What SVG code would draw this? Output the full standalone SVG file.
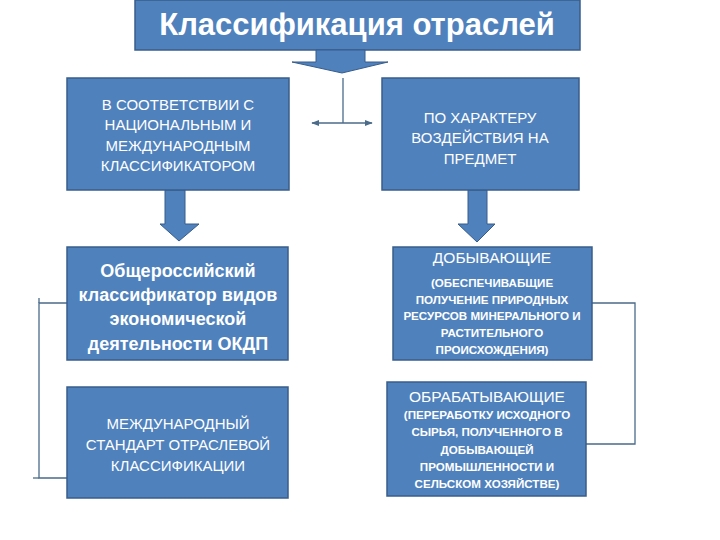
<svg xmlns="http://www.w3.org/2000/svg" width="720" height="540" viewBox="0 0 720 540">
<defs>
<style>
.box{fill:#4F81BD;stroke:#385D8A;stroke-width:1.5}
.arr{fill:#4F81BD;stroke:#385D8A;stroke-width:1}
.t{font-family:"Liberation Sans","DejaVu Sans",sans-serif;fill:#fff;text-anchor:middle}
.m{font-size:15px}
.h{font-size:15.5px}
.s{font-size:11.6px;font-weight:bold}
.ln{fill:none;stroke:#4A6B8A;stroke-width:1.3}
</style>
<marker id="ah" viewBox="0 0 10 10" refX="9" refY="5" markerWidth="6" markerHeight="6" orient="auto-start-reverse">
<path d="M0,1 L10,5 L0,9 z" fill="#4A6B8A"/>
</marker>
</defs>
<rect width="720" height="540" fill="#fff"/>
<g id="title">
<rect class="box" x="135" y="0" width="445" height="50"/>
<text class="t" x="357" y="35" font-size="31" font-weight="bold">Классификация отраслей</text>
</g>
<g id="arrows">
<path class="arr" d="M316,50 H365 V62 H388 L342,73 L292,62 H316 Z"/>
<path class="arr" d="M165,190 H185 V224 H199 L179,241 L160,224 H165 Z"/>
<path class="arr" d="M468,190 H487 V224 H495 L477,242 L458,224 H468 Z"/>
</g>
<g id="connectors">
<line class="ln" x1="343" y1="78" x2="343" y2="123"/>
<line class="ln" x1="312" y1="123" x2="372" y2="123" marker-start="url(#ah)" marker-end="url(#ah)"/>
<polyline class="ln" points="67,303 39,303 39,478 67,478"/>
<line class="ln" x1="39" y1="298" x2="39" y2="303"/>
<line class="ln" x1="33" y1="478" x2="39" y2="478"/>
<polyline class="ln" points="592,303 635,303 635,444 586,444"/>
</g>
<g id="n1">
<rect class="box" x="67" y="78" width="222" height="112"/>
<text class="t m" x="178" y="110">В СООТВЕТСТВИИ С</text>
<text class="t m" x="178" y="130">НАЦИОНАЛЬНЫМ И</text>
<text class="t m" x="178" y="151">МЕЖДУНАРОДНЫМ</text>
<text class="t m" x="178" y="171">КЛАССИФИКАТОРОМ</text>
</g>
<g id="n2">
<rect class="box" x="382" y="78" width="197" height="112"/>
<text class="t m" x="480" y="123">ПО ХАРАКТЕРУ</text>
<text class="t m" x="480" y="143">ВОЗДЕЙСТВИЯ НА</text>
<text class="t m" x="480" y="164">ПРЕДМЕТ</text>
</g>
<g id="n3">
<rect class="box" x="67" y="247" width="221" height="113"/>
<text class="t" x="178" y="277" font-size="18" font-weight="bold">Общероссийский</text>
<text class="t" x="178" y="301" font-size="18" font-weight="bold">классификатор видов</text>
<text class="t" x="178" y="325" font-size="18" font-weight="bold">экономической</text>
<text class="t" x="178" y="350" font-size="18" font-weight="bold">деятельности ОКДП</text>
</g>
<g id="n4">
<rect class="box" x="67" y="387" width="221" height="111"/>
<text class="t m" x="178" y="429">МЕЖДУНАРОДНЫЙ</text>
<text class="t m" x="178" y="450">СТАНДАРТ ОТРАСЛЕВОЙ</text>
<text class="t m" x="178" y="471">КЛАССИФИКАЦИИ</text>
</g>
<g id="n5">
<rect class="box" x="393" y="247" width="199" height="113"/>
<text class="t h" x="492" y="263">ДОБЫВАЮЩИЕ</text>
<text class="t s" x="492" y="287">(ОБЕСПЕЧИВАБЩИЕ</text>
<text class="t s" x="492" y="304">ПОЛУЧЕНИЕ ПРИРОДНЫХ</text>
<text class="t s" x="492" y="320">РЕСУРСОВ МИНЕРАЛЬНОГО И</text>
<text class="t s" x="492" y="337">РАСТИТЕЛЬНОГО</text>
<text class="t s" x="492" y="354">ПРОИСХОЖДЕНИЯ)</text>
</g>
<g id="n6">
<rect class="box" x="387" y="382" width="199" height="114"/>
<text class="t h" x="487" y="402">ОБРАБАТЫВАЮЩИЕ</text>
<text class="t s" x="487" y="419">(ПЕРЕРАБОТКУ ИСХОДНОГО</text>
<text class="t s" x="487" y="436">СЫРЬЯ, ПОЛУЧЕННОГО В</text>
<text class="t s" x="487" y="454">ДОБЫВАЮЩЕЙ</text>
<text class="t s" x="487" y="471">ПРОМЫШЛЕННОСТИ И</text>
<text class="t s" x="487" y="488">СЕЛЬСКОМ ХОЗЯЙСТВЕ)</text>
</g>
</svg>
